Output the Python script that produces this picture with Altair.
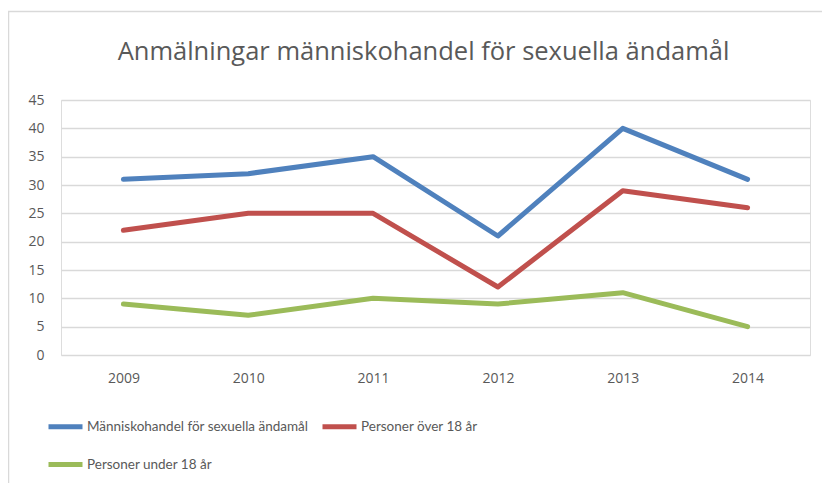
import altair as alt
import pandas as pd

years = ["2009", "2010", "2011", "2012", "2013", "2014"]
series_names = [
    "Människohandel för sexuella ändamål",
    "Personer över 18 år",
    "Personer under 18 år",
]
total = [31, 32, 35, 21, 40, 31]
over18 = [22, 25, 25, 12, 29, 26]
under18 = [9, 7, 10, 9, 11, 5]
colors = ["#4F81BD", "#C0504D", "#9BBB59"]
title_text = "Anmälningar människohandel för sexuella ändamål"

rows = []
for name, vals in zip(series_names, [total, over18, under18]):
    for i, (y, v) in enumerate(zip(years, vals)):
        rows.append({"year": y, "value": v, "series": name, "order": i})
df = pd.DataFrame(rows)

# legend grid fills column by column: put the third series in the first column
legend_order = [series_names[0], series_names[2], series_names[1]]
legend_colors = [colors[0], colors[2], colors[1]]

font = "Open Sans"
grey = "#595959"

frame = alt.Chart(pd.DataFrame({"a": [0]})).mark_rect(
    fill=None, stroke="#D9D9D9", strokeWidth=1.5
).encode(
    x=alt.value(-52.5), x2=alt.value(900), y=alt.value(-88.5), y2=alt.value(600)
)

lines = alt.Chart(df).mark_line(strokeWidth=5, strokeCap="round", strokeJoin="round").encode(
    x=alt.X("year:O", sort=years,
            scale=alt.Scale(type="point", padding=0.5),
            axis=alt.Axis(title=None, labelAngle=0, domain=False, ticks=False,
                          labelPadding=16, labelFontSize=14, labelColor=grey,
                          labelFont=font)),
    y=alt.Y("value:Q", scale=alt.Scale(domain=[0, 45]),
            axis=alt.Axis(title=None, values=list(range(0, 50, 5)), domain=False,
                          ticks=False, labelPadding=17, labelFontSize=14,
                          labelColor=grey, labelFont=font, gridColor="#D9D9D9",
                          gridWidth=1.5)),
    color=alt.Color("series:N",
                    scale=alt.Scale(domain=legend_order, range=legend_colors),
                    legend=alt.Legend(title=None, orient="none", legendX=-15,
                                      legendY=307, columns=2, columnPadding=3,
                                      rowPadding=8, symbolType="stroke",
                                      symbolStrokeWidth=5, symbolSize=1156,
                                      labelFontSize=13.5, labelColor=grey,
                                      labelFont="Lato",
                                      labelOffset=2, labelLimit=400)),
    order="order:Q",
)

chart = alt.layer(frame, lines).properties(
    width=749, height=255,
    padding={"left": 53, "top": 92, "right": 12, "bottom": 128},
    autosize=alt.AutoSizeParams(type="none"),
    title=alt.TitleParams(title_text, font=font, fontSize=25.5, fontWeight="normal",
                          color=grey, anchor="middle", frame="group",
                          offset=-55, dx=-12),
).configure_view(stroke=None).configure(background="white")

chart.save("out.html", embed_options={"renderer": "svg", "actions": False})
